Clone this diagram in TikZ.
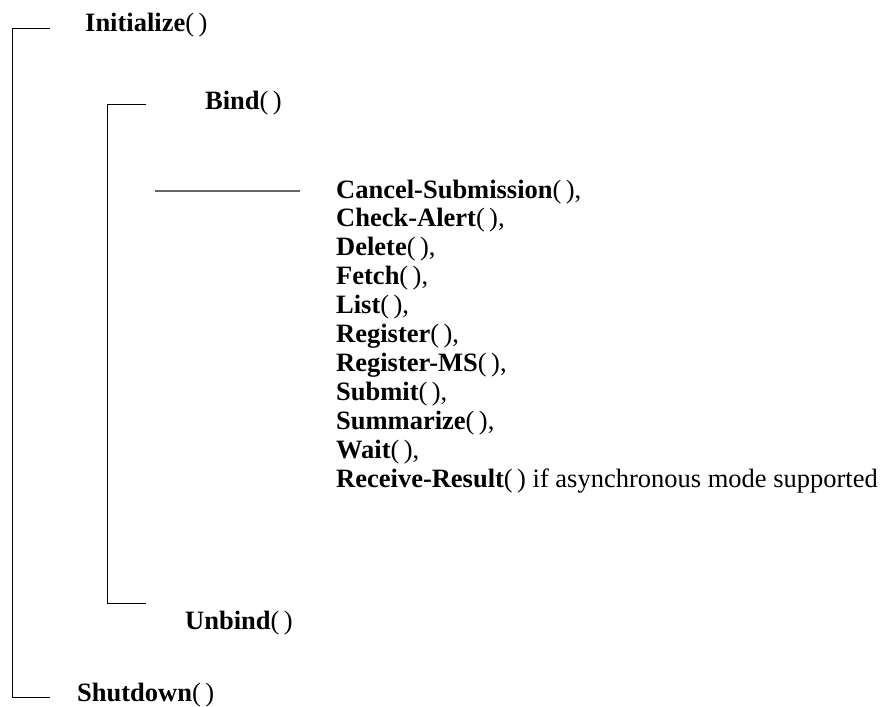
\documentclass[tikz,border=0pt]{standalone}
\usepackage{fontspec}
\setmainfont{Liberation Serif}
\usetikzlibrary{positioning}
\newcommand{\callname}[1]{\textbf{#1}(\,)}

\begin{document}
\begin{tikzpicture}[x=1pt,y=-1pt]
\useasboundingbox (0,0) rectangle (885,706);
\tikzstyle{call}=[anchor=base west, inner sep=0pt, font=\fontsize{26.5}{29}\selectfont]
\tikzstyle{rule}=[line width=0.9pt]

\node[call] (init) at (85,32) {\callname{Initialize}};
\node[call] (bind) at (205,110) {\callname{Bind}};
\node[call] (unbind) at (185,629) {\callname{Unbind}};
\node[call] (shut) at (77,701) {\callname{Shutdown}};

\foreach \op [count=\i from 0] in {Cancel-Submission, Check-Alert, Delete, Fetch, List,
    Register, Register-MS, Submit, Summarize, Wait}
  \node[call] (op\i) at (336,198+28.9*\i) {\callname{\op},};
\node[call] (op10) at (336,198+289) {\callname{Receive-Result} if asynchronous mode supported};

% outer and inner brackets
\coordinate (outtop) at (12,28);
\coordinate (outbot) at (12,697);
\coordinate (intop) at (107,104);
\coordinate (inbot) at (107,603);
\draw[rule] ([xshift=38pt]outtop) -- (outtop) -- (outbot) -- ([xshift=38pt]outbot);
\draw[rule] ([xshift=39pt]intop) -- (intop) -- (inbot) -- ([xshift=39pt]inbot);

% line to the operation list
\coordinate (tap) at (155,191);
\coordinate (tapend) at (300,191);
\draw[line width=1.2pt, black!60] (tap) -- (tapend);
\end{tikzpicture}
\end{document}
